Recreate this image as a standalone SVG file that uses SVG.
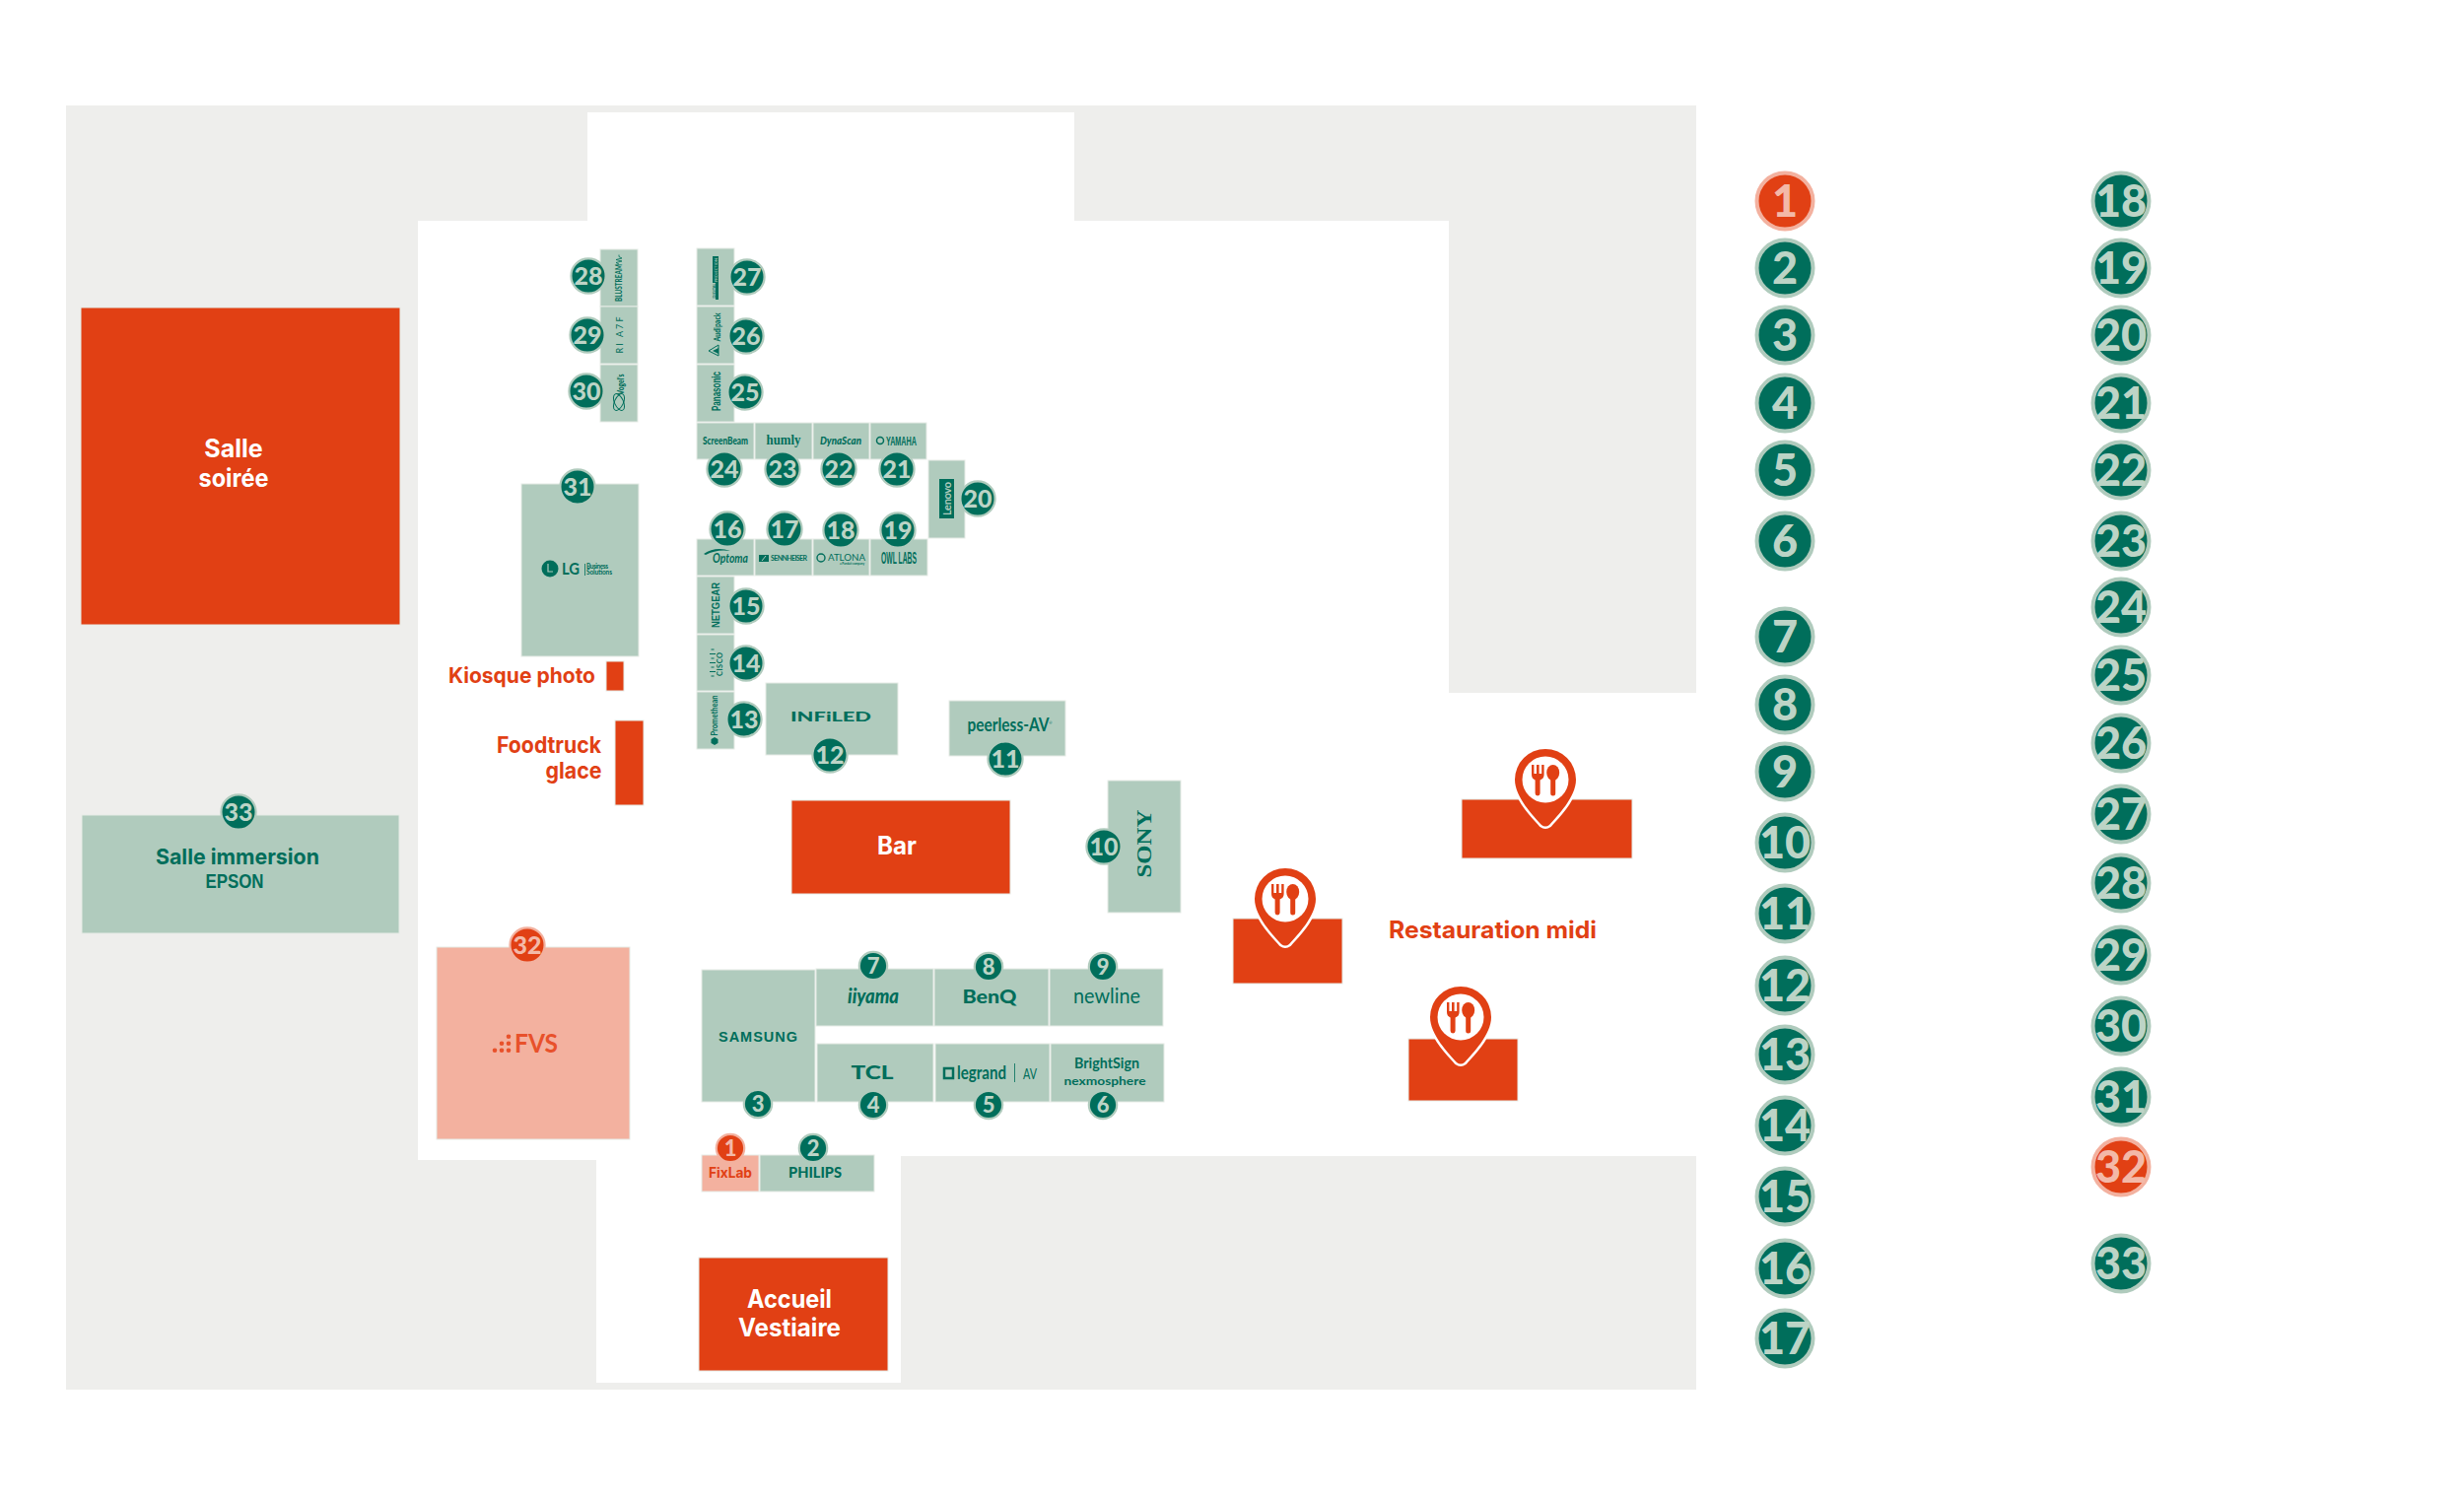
<svg xmlns="http://www.w3.org/2000/svg" xmlns:xlink="http://www.w3.org/1999/xlink" width="2500" height="1523" viewBox="0 0 2500 1523">
<style>
text{font-family:"Lato","Liberation Sans",sans-serif;text-anchor:middle}
.bx{stroke:#e6ebe6;stroke-width:1}
.gn{fill:#b0cbbd}.or{fill:#e14014}.sa{fill:#f3b19f}
.d{fill:#006e5b}.df{fill:#006e5b;stroke:none}
.lb{font-family:"Inter","Liberation Sans",sans-serif;font-weight:700}
.w{fill:#fff}.ot{fill:#e14014}
.st{text-anchor:start}
.g circle{fill:#006e5b;stroke:#b0cbbd}
.g text{fill:#bcd4c6}
.o circle{fill:#e14014;stroke:#f3b19f}
.o text{fill:#f3b9a8}
.l circle{stroke-width:4}.l text{font-size:45px;font-weight:900}
.m circle{stroke-width:2.2}.m text{font-size:25px;font-weight:900}
.s circle{stroke-width:2.2}.s text{font-size:22px;font-weight:900}
.cond{font-family:"Liberation Sans",sans-serif;font-weight:700}
</style>
<defs>
<g id="pin">
<path d="M-31 0A31 31 0 1 1 31 0C31 18 12 37 4 46Q0 49-4 46C-12 37-31 18-31 0Z" fill="#e14014" stroke="#fff" stroke-width="5" paint-order="stroke"/>
<circle r="23.5" fill="#fff"/>
<path d="M-14-15h2.4v9h2.6v-9h2.6v9h2.6v-9h2.4v10q0 4-4 5.500v13.500a2.500 2.500 0 0 1-5 0v-13.500q-3.600-1.500-3.600-5.500Z" fill="#e14014"/>
<ellipse cx="7.700" cy="-7" rx="6.500" ry="8" fill="#e14014"/>
<path d="M5.200-2h5v16a2.500 2.500 0 0 1-5 0Z" fill="#e14014"/>
</g>
</defs>
<rect width="2500" height="1523" fill="#fff"/>
<g id="floor">
<rect x="67" y="107" width="1654" height="1303" fill="#eeeeec"/>
<path d="M596 114H1090V224H1470V703H1721V1173H914V1403H605V1177H424V224H596Z" fill="#fff"/>
</g>
<g id="plan" transform="translate(0 -1)">
<g id="salle-soiree"><rect class="bx or" x="82" y="313" width="324" height="322"/><text class="lb w" font-size="25" x="237" y="465">Salle</text><text class="lb w" font-size="25" x="237" y="495" textLength="71" lengthAdjust="spacingAndGlyphs">soirée</text></g>
<g id="salle-immersion"><rect class="bx gn" x="83" y="828" width="322" height="120"/><text class="lb d" font-size="22" x="241" y="878" textLength="166" lengthAdjust="spacingAndGlyphs">Salle immersion</text><text class="cond d" font-size="20" x="238" y="902" textLength="59" lengthAdjust="spacingAndGlyphs">EPSON</text><g id="badge-33" class="g m" transform="translate(242 825)"><circle r="17.6"/><text y="9">33</text></g></g>
<g id="fvs"><rect class="bx sa" x="443" y="962" width="196" height="195"/><g fill="#e8512b"><circle cx="502" cy="1066.700" r="2.300"/><circle cx="509" cy="1066.700" r="2.300"/><circle cx="516" cy="1066.700" r="2.300"/><circle cx="509" cy="1059.700" r="2.300"/><circle cx="516" cy="1059.700" r="2.300"/><circle cx="516" cy="1052.700" r="2.300"/></g><text x="544" y="1069" font-size="26" font-weight="700" fill="#e8512b" textLength="44" lengthAdjust="spacingAndGlyphs">FVS</text><g id="badge-32" class="o m" transform="translate(535 960)"><circle r="17.6"/><text y="9">32</text></g></g>
<g id="kiosque"><rect class="bx or" x="615" y="672" width="18" height="30"/><text class="lb ot" font-size="22" x="529.500" y="694" textLength="149" lengthAdjust="spacingAndGlyphs">Kiosque photo</text></g>
<g id="foodtruck"><rect class="bx or" x="624" y="732" width="29" height="86"/><text class="lb ot" font-size="23" x="557" y="765" textLength="106" lengthAdjust="spacingAndGlyphs">Foodtruck</text><text class="lb ot" font-size="23" x="582" y="791" textLength="57" lengthAdjust="spacingAndGlyphs">glace</text></g>
<g id="lg"><rect class="bx gn" x="529" y="492" width="119" height="175"/><circle cx="558" cy="578" r="8.500" class="df"/><path d="M556 573v8h5" fill="none" stroke="#b0cbbd" stroke-width="1.200"/><text class="d st" x="570" y="584" font-size="17" font-weight="700" textLength="18" lengthAdjust="spacingAndGlyphs">LG</text><rect class="df" x="593" y="573" width="0.800" height="12"/><text class="d st" x="595" y="577.500" font-size="6.500" font-weight="700" textLength="22">Business</text><text class="d st" x="595" y="584" font-size="6.500" font-weight="700" textLength="26">Solutions</text><g id="badge-31" class="g m" transform="translate(586 495)"><circle r="17.6"/><text y="9">31</text></g></g>
<g id="bluestream"><rect class="bx gn" x="609" y="254" width="38" height="58"/><text class="d" transform="rotate(-90 628 288)" x="628" y="291" font-size="10" font-weight="700" textLength="38" lengthAdjust="spacingAndGlyphs">BLUSTREAM</text><path d="M628 269l-3-1.500 6-1.500-6-1.500 6-1.500-3-1.500v-2" fill="none" stroke="#006e5b" stroke-width="0.800"/><g id="badge-28" class="g m" transform="translate(597 281)"><circle r="17.6"/><text y="9">28</text></g></g>
<g id="node-29"><rect class="bx gn" x="609" y="312" width="38" height="58"/><text class="d" transform="rotate(-90 629 341)" x="629" y="344" font-size="9" font-weight="400" textLength="37">RI A7F</text><g id="badge-29" class="g m" transform="translate(596 341)"><circle r="17.6"/><text y="9">29</text></g></g>
<g id="vogels"><rect class="bx gn" x="609" y="371" width="38" height="58"/><text class="d" transform="rotate(-90 630 391)" x="630" y="394" font-size="9" font-weight="900" textLength="21" lengthAdjust="spacingAndGlyphs">Vogel's</text><g fill="none" stroke="#006e5b" stroke-width="1"><ellipse cx="628" cy="409" rx="4.500" ry="9" transform="rotate(25 628 409)"/><ellipse cx="628" cy="409" rx="4.500" ry="9" transform="rotate(-25 628 409)"/></g><g id="badge-30" class="g m" transform="translate(595 398)"><circle r="17.6"/><text y="9">30</text></g></g>
<g id="digital-projection"><rect class="bx gn" x="707" y="253" width="38" height="58"/><rect class="df" x="723" y="261" width="6" height="27"/><rect class="df" x="726" y="288" width="3" height="17"/><text transform="rotate(-90 726 275)" x="726" y="277" font-size="4.500" fill="#b0cbbd" textLength="24" lengthAdjust="spacingAndGlyphs">PROJECTION</text><text class="d" transform="rotate(-90 724 296)" x="724" y="298" font-size="4.500" font-weight="700" textLength="15" lengthAdjust="spacingAndGlyphs">DIGITAL</text><g id="badge-27" class="g m" transform="translate(758 282)"><circle r="17.6"/><text y="9">27</text></g></g>
<g id="audipack"><rect class="bx gn" x="707" y="312" width="38" height="58"/><text class="d" transform="rotate(-90 727 333)" x="727" y="336.500" font-size="10" font-weight="900" textLength="29" lengthAdjust="spacingAndGlyphs">Audipack</text><path d="M719 357L729 351V362Z" fill="none" stroke="#006e5b"/><path d="M723 357L729 354V360Z" class="df"/><g id="badge-26" class="g m" transform="translate(757 342)"><circle r="17.6"/><text y="9">26</text></g></g>
<g id="panasonic"><rect class="bx gn" x="707" y="371" width="38" height="58"/><text class="cond d" transform="rotate(-90 727 398)" x="727" y="402" font-size="12" textLength="40" lengthAdjust="spacingAndGlyphs">Panasonic</text><g id="badge-25" class="g m" transform="translate(756 399)"><circle r="17.6"/><text y="9">25</text></g></g>
<g id="screenbeam"><rect class="bx gn" x="707" y="430" width="58" height="37"/><text class="d" x="736" y="451.500" font-size="10.500" font-weight="900" textLength="46" lengthAdjust="spacingAndGlyphs">ScreenBeam</text><g id="badge-24" class="g m" transform="translate(735 477)"><circle r="17.6"/><text y="9">24</text></g></g>
<g id="humly"><rect class="bx gn" x="766" y="430" width="58" height="37"/><text class="d" x="795" y="452" style="font-family:'Liberation Serif',serif" font-size="15" font-weight="700" textLength="35" lengthAdjust="spacingAndGlyphs">humly</text><g id="badge-23" class="g m" transform="translate(794 477)"><circle r="17.6"/><text y="9">23</text></g></g>
<g id="dynascan"><rect class="bx gn" x="825" y="430" width="57" height="37"/><text class="d" x="853" y="452" font-size="11" font-weight="900" font-style="italic" textLength="42" lengthAdjust="spacingAndGlyphs">DynaScan</text><g id="badge-22" class="g m" transform="translate(851 477)"><circle r="17.6"/><text y="9">22</text></g></g>
<g id="yamaha"><rect class="bx gn" x="883" y="430" width="57" height="37"/><circle cx="893" cy="448" r="3.500" fill="none" stroke="#006e5b" stroke-width="1.500"/><text class="cond d st" x="899" y="452.500" font-size="12" textLength="31" lengthAdjust="spacingAndGlyphs">YAMAHA</text><g id="badge-21" class="g m" transform="translate(910 477)"><circle r="17.6"/><text y="9">21</text></g></g>
<g id="lenovo"><rect class="bx gn" x="942" y="468" width="37" height="79"/><rect class="df" x="953" y="487" width="15" height="40"/><text transform="rotate(-90 961 507)" x="961" y="511" font-size="11" fill="#b0cbbd" font-weight="700" textLength="34">Lenovo</text><g id="badge-20" class="g m" transform="translate(992 507)"><circle r="17.6"/><text y="9">20</text></g></g>
<g id="optoma"><rect class="bx gn" x="707" y="548" width="58" height="37"/><path d="M714 563Q726 555 741 560Q727 558 716 564Z" class="df"/><text class="d" x="741" y="572" font-size="13" font-style="italic" font-weight="700" textLength="36" lengthAdjust="spacingAndGlyphs">Optoma</text><g id="badge-16" class="g m" transform="translate(738 538)"><circle r="17.6"/><text y="9">16</text></g></g>
<g id="sennheiser"><rect class="bx gn" x="766" y="548" width="58" height="37"/><path d="M770 564h10v7h-10Z" class="df"/><path d="M773 570l4-5" stroke="#b0cbbd" stroke-width="1"/><text class="d st" x="782" y="570" font-size="7" font-weight="700" textLength="37" lengthAdjust="spacing">SENNHEISER</text><g id="badge-17" class="g m" transform="translate(796 538)"><circle r="17.6"/><text y="9">17</text></g></g>
<g id="atlona"><rect class="bx gn" x="825" y="548" width="57" height="37"/><circle cx="833" cy="567" r="4" fill="none" stroke="#006e5b" stroke-width="1.400"/><text class="d st" x="840" y="570" font-size="8.500" font-weight="400" textLength="38" lengthAdjust="spacingAndGlyphs">ATLONA</text><text class="d st" x="852" y="573.500" font-size="3" font-weight="700" textLength="25">a Panduit company</text><g id="badge-18" class="g m" transform="translate(853 539)"><circle r="17.6"/><text y="9">18</text></g></g>
<g id="owl-labs"><rect class="bx gn" x="883" y="548" width="58" height="37"/><text class="cond d" x="912" y="573" font-size="16" textLength="36" lengthAdjust="spacingAndGlyphs">OWL LABS</text><g id="badge-19" class="g m" transform="translate(911 539)"><circle r="17.6"/><text y="9">19</text></g></g>
<g id="netgear"><rect class="bx gn" x="707" y="586" width="38" height="58"/><text class="cond d" transform="rotate(-90 726 615)" x="726" y="619" font-size="11" textLength="46" lengthAdjust="spacingAndGlyphs">NETGEAR</text><g id="badge-15" class="g m" transform="translate(757 616)"><circle r="17.6"/><text y="9">15</text></g></g>
<g id="cisco"><rect class="bx gn" x="707" y="645" width="38" height="57"/><path d="M721.500 660h3M720 664.500h6M721.500 669h3M720 673.500h6M721.500 678h3M720 682.500h6M721.500 687h3" stroke="#006e5b" stroke-width="1.100" fill="none"/><text class="d" transform="rotate(-90 730 675)" x="730" y="678" font-size="7.500" font-weight="700" textLength="24">CISCO</text><g id="badge-14" class="g m" transform="translate(757 674)"><circle r="17.6"/><text y="9">14</text></g></g>
<g id="promethean"><rect class="bx gn" x="707" y="703" width="38" height="58"/><text class="d" transform="rotate(-90 725 727)" x="725" y="730" font-size="9" font-weight="700" textLength="41" lengthAdjust="spacingAndGlyphs">Promethean</text><path d="M725 749l3.500 2v4l-3.500 2-3.500-2v-4Z" class="df"/><g id="badge-13" class="g m" transform="translate(755 731)"><circle r="17.6"/><text y="9">13</text></g></g>
<g id="infiled"><rect class="bx gn" x="777" y="694" width="134" height="73"/><text class="d" x="843" y="733" font-size="14" font-weight="900" textLength="82" lengthAdjust="spacingAndGlyphs">INFiLED</text><g id="badge-12" class="g m" transform="translate(842 767)"><circle r="17.6"/><text y="9">12</text></g></g>
<g id="peerless"><rect class="bx gn" x="963" y="712" width="118" height="56"/><text class="d" x="1023" y="743" font-size="18" font-weight="700" textLength="83" lengthAdjust="spacingAndGlyphs">peerless-AV</text><text class="d" x="1066" y="736" font-size="4">®</text><g id="badge-11" class="g m" transform="translate(1020 771)"><circle r="17.6"/><text y="9">11</text></g></g>
<g id="sony"><rect class="bx gn" x="1124" y="793" width="74" height="134"/><text class="d" transform="rotate(-90 1161 857)" x="1161" y="864" style="font-family:'Liberation Serif',serif" font-size="20" font-weight="700" textLength="69" lengthAdjust="spacingAndGlyphs">SONY</text><g id="badge-10" class="g m" transform="translate(1120 860)"><circle r="17.6"/><text y="9">10</text></g></g>
<g id="bar"><rect class="bx or" x="803" y="813" width="222" height="95"/><text class="lb w" font-size="25" x="910" y="868" textLength="40" lengthAdjust="spacingAndGlyphs">Bar</text></g>
<g id="samsung"><rect class="bx gn" x="712" y="985" width="115" height="134"/><text class="cond d" x="769" y="1058" font-size="14.500" textLength="80" lengthAdjust="spacing">SAMSUNG</text><g id="badge-3" class="g s" transform="translate(769 1121)"><circle r="14.200"/><text y="8">3</text></g></g>
<g id="iiyama"><rect class="bx gn" x="828" y="984" width="119" height="58"/><text class="d" x="886" y="1019" font-size="20" font-weight="900" font-style="italic" textLength="52" lengthAdjust="spacingAndGlyphs">iiyama</text><g id="badge-7" class="g s" transform="translate(886 981)"><circle r="14.200"/><text y="8">7</text></g></g>
<g id="benq"><rect class="bx gn" x="948" y="984" width="116" height="58"/><text class="d" x="1004" y="1019" font-size="19" font-weight="900" textLength="55" lengthAdjust="spacingAndGlyphs">BenQ</text><g id="badge-8" class="g s" transform="translate(1003 982)"><circle r="14.200"/><text y="8">8</text></g></g>
<g id="newline"><rect class="bx gn" x="1065" y="984" width="115" height="58"/><text class="d" x="1123" y="1019" font-size="21" font-weight="400" textLength="68" lengthAdjust="spacingAndGlyphs">newline</text><g id="badge-9" class="g s" transform="translate(1119 982)"><circle r="14.200"/><text y="8">9</text></g></g>
<g id="tcl"><rect class="bx gn" x="829" y="1060" width="118" height="59"/><text class="d" x="885" y="1096" font-size="19" font-weight="900" textLength="43" lengthAdjust="spacingAndGlyphs">TCL</text><g id="badge-4" class="g s" transform="translate(886 1122)"><circle r="14.200"/><text y="8">4</text></g></g>
<g id="legrand"><rect class="bx gn" x="949" y="1060" width="116" height="59"/><rect x="958" y="1085" width="9" height="10" fill="none" stroke="#006e5b" stroke-width="2.500"/><text class="d st" x="971" y="1096" font-size="18" font-weight="700" textLength="50" lengthAdjust="spacingAndGlyphs">legrand</text><rect class="df" x="1029" y="1080" width="0.800" height="19"/><text class="d st" x="1038" y="1096" font-size="15" font-weight="400" textLength="14" lengthAdjust="spacingAndGlyphs">AV</text><g id="badge-5" class="g s" transform="translate(1003 1122)"><circle r="14.200"/><text y="8">5</text></g></g>
<g id="brightsign"><rect class="bx gn" x="1066" y="1060" width="115" height="59"/><text class="d" x="1123" y="1085" font-size="15" font-weight="700" textLength="66" lengthAdjust="spacingAndGlyphs">BrightSign</text><text class="d" x="1121" y="1102" font-size="12" font-weight="700" textLength="83" lengthAdjust="spacingAndGlyphs">nexmosphere</text><g id="badge-6" class="g s" transform="translate(1119 1122)"><circle r="14.200"/><text y="8">6</text></g></g>
<g id="fixlab"><rect class="bx sa" x="712" y="1173" width="58" height="37"/><text class="lb ot" x="741" y="1196" font-size="14" textLength="44" lengthAdjust="spacingAndGlyphs">FixLab</text><g id="badge-1" class="o s" transform="translate(741 1166)"><circle r="14.200"/><text y="8">1</text></g></g>
<g id="philips"><rect class="bx gn" x="771" y="1173" width="116" height="37"/><text class="d" x="827" y="1196" font-size="15" font-weight="900" textLength="54" lengthAdjust="spacingAndGlyphs">PHILIPS</text><g id="badge-2" class="g s" transform="translate(825 1166)"><circle r="14.200"/><text y="8">2</text></g></g>
<g id="accueil"><rect class="bx or" x="709" y="1277" width="192" height="115"/><text class="lb w" font-size="25" x="801" y="1328" textLength="86" lengthAdjust="spacingAndGlyphs">Accueil</text><text class="lb w" font-size="25" x="801" y="1357" textLength="104" lengthAdjust="spacingAndGlyphs">Vestiaire</text></g>
<g id="resto-a"><rect class="bx or" x="1483" y="812" width="173" height="60"/><use xlink:href="#pin" href="#pin" transform="translate(1568 792)"/></g>
<g id="resto-b"><rect class="bx or" x="1251" y="933" width="111" height="66"/><use xlink:href="#pin" href="#pin" transform="translate(1304 913)"/></g>
<g id="resto-c"><rect class="bx or" x="1429" y="1055" width="111" height="63"/><use xlink:href="#pin" href="#pin" transform="translate(1482 1033)"/></g>
<text class="lb ot" font-size="24" x="1514.500" y="953" textLength="211" lengthAdjust="spacingAndGlyphs">Restauration midi</text>
<g id="legend">
<g class="o l" transform="translate(1811 205)"><circle r="28.500"/><text y="16">1</text></g>
<g class="g l" transform="translate(1811 273)"><circle r="28.500"/><text y="16">2</text></g>
<g class="g l" transform="translate(1811 341)"><circle r="28.500"/><text y="16">3</text></g>
<g class="g l" transform="translate(1811 410)"><circle r="28.500"/><text y="16">4</text></g>
<g class="g l" transform="translate(1811 478)"><circle r="28.500"/><text y="16">5</text></g>
<g class="g l" transform="translate(1811 550)"><circle r="28.500"/><text y="16">6</text></g>
<g class="g l" transform="translate(1811 647)"><circle r="28.500"/><text y="16">7</text></g>
<g class="g l" transform="translate(1811 716)"><circle r="28.500"/><text y="16">8</text></g>
<g class="g l" transform="translate(1811 784)"><circle r="28.500"/><text y="16">9</text></g>
<g class="g l" transform="translate(1811 856)"><circle r="28.500"/><text y="16">10</text></g>
<g class="g l" transform="translate(1811 928)"><circle r="28.500"/><text y="16">11</text></g>
<g class="g l" transform="translate(1811 1001)"><circle r="28.500"/><text y="16">12</text></g>
<g class="g l" transform="translate(1811 1071)"><circle r="28.500"/><text y="16">13</text></g>
<g class="g l" transform="translate(1811 1143)"><circle r="28.500"/><text y="16">14</text></g>
<g class="g l" transform="translate(1811 1215)"><circle r="28.500"/><text y="16">15</text></g>
<g class="g l" transform="translate(1811 1288)"><circle r="28.500"/><text y="16">16</text></g>
<g class="g l" transform="translate(1811 1359)"><circle r="28.500"/><text y="16">17</text></g>
<g class="g l" transform="translate(2152 205)"><circle r="28.500"/><text y="16">18</text></g>
<g class="g l" transform="translate(2152 273)"><circle r="28.500"/><text y="16">19</text></g>
<g class="g l" transform="translate(2152 341)"><circle r="28.500"/><text y="16">20</text></g>
<g class="g l" transform="translate(2152 410)"><circle r="28.500"/><text y="16">21</text></g>
<g class="g l" transform="translate(2152 478)"><circle r="28.500"/><text y="16">22</text></g>
<g class="g l" transform="translate(2152 550)"><circle r="28.500"/><text y="16">23</text></g>
<g class="g l" transform="translate(2152 617)"><circle r="28.500"/><text y="16">24</text></g>
<g class="g l" transform="translate(2152 686)"><circle r="28.500"/><text y="16">25</text></g>
<g class="g l" transform="translate(2152 755)"><circle r="28.500"/><text y="16">26</text></g>
<g class="g l" transform="translate(2152 827)"><circle r="28.500"/><text y="16">27</text></g>
<g class="g l" transform="translate(2152 897)"><circle r="28.500"/><text y="16">28</text></g>
<g class="g l" transform="translate(2152 970)"><circle r="28.500"/><text y="16">29</text></g>
<g class="g l" transform="translate(2152 1042)"><circle r="28.500"/><text y="16">30</text></g>
<g class="g l" transform="translate(2152 1114)"><circle r="28.500"/><text y="16">31</text></g>
<g class="o l" transform="translate(2152 1185)"><circle r="28.500"/><text y="16">32</text></g>
<g class="g l" transform="translate(2152 1283)"><circle r="28.500"/><text y="16">33</text></g>
</g>
</g>
</svg>
